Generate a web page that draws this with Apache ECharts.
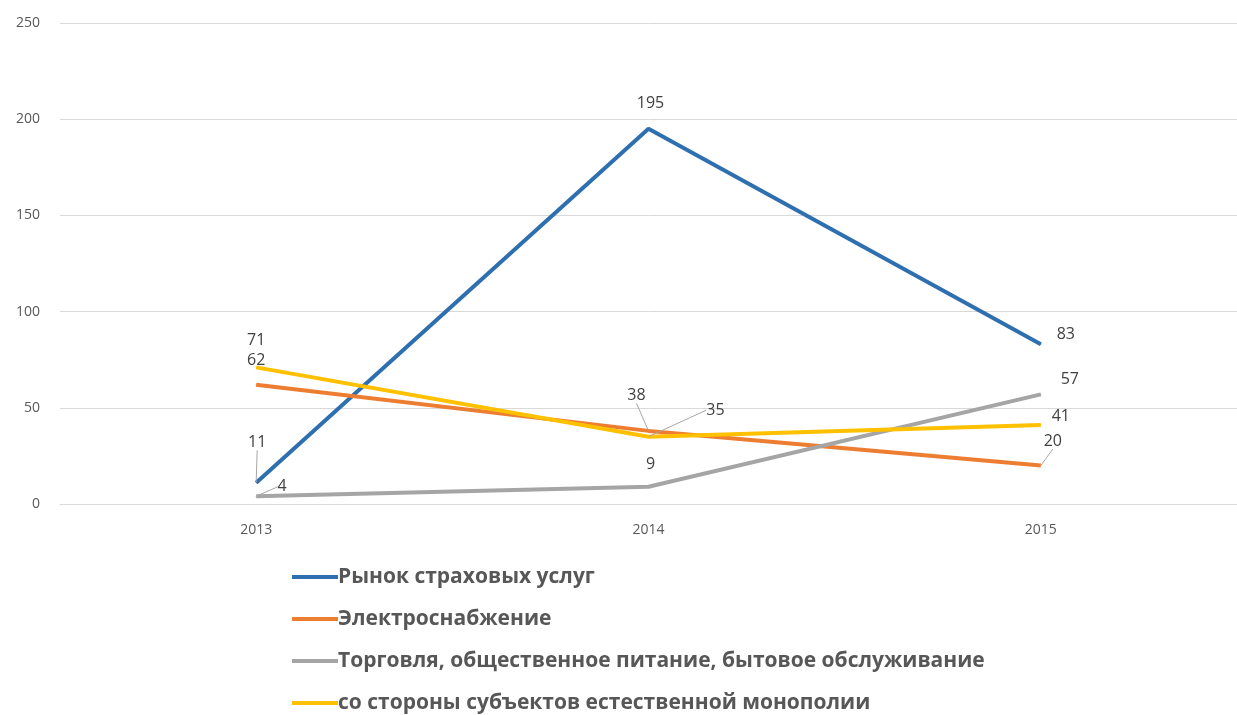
<!DOCTYPE html>
<html><head><meta charset="utf-8">
<script src="https://cdn.jsdelivr.net/npm/echarts@6/dist/echarts.min.js"></script>
<style>html,body{margin:0;padding:0;background:#fff}#c{width:1237px;height:715px}</style>
</head><body><div id="c"></div>
<script>
const categories = ['2013', '2014', '2015'];
const yTicks = [0, 50, 100, 150, 200, 250];
const seriesNames = ['Рынок страховых услуг', 'Электроснабжение', 'Торговля, общественное питание, бытовое обслуживание', 'со стороны субъектов естественной монополии'];
const insurance = [11, 195, 83];
const electricity = [62, 38, 20];
const trade = [4, 9, 57];
const monopoly = [71, 35, 41];

const colors = ['#2E6FB0', '#ED7D31', '#A5A5A5', '#FFC000'];
// label offsets [dx, dy] relative to default 'top' position, and whether leader line is drawn
const labelOffsets = [
  [[1, -26, true], [2, -11, false], [25, 5, false]],
  [[0, -10, false], [-12, -21, true], [12, -10, true]],
  [[26, 5, true], [2, -8, false], [29, 0, false]],
  [[0, -12, false], [67, -12, true], [20, 6, false]]
];
const seriesData = [insurance, electricity, trade, monopoly];

const chart = echarts.init(document.getElementById('c'));
chart.setOption({
  animation: false,
  color: colors,
  grid: { left: 60, width: 1182, top: 23, height: 481, containLabel: false },
  xAxis: {
    type: 'category', data: categories, boundaryGap: true,
    axisLine: { show: true, lineStyle: { color: '#D9D9D9', width: 1 } },
    axisTick: { show: false },
    axisLabel: { color: '#595959', fontSize: 14, fontFamily: 'Open Sans', margin: 19 }
  },
  yAxis: {
    type: 'value', min: 0, max: 250, interval: 50,
    axisLine: { show: false }, axisTick: { show: false },
    splitLine: { lineStyle: { color: '#D9D9D9', width: 1 } },
    axisLabel: { color: '#595959', fontSize: 14, fontFamily: 'Open Sans', margin: 20 }
  },
  legend: {
    orient: 'vertical', left: 292, top: 564, itemGap: 16, padding: 0,
    width: 800, height: 220,
    itemWidth: 46, itemHeight: 4, icon: 'rect',
    textStyle: { color: '#575757', fontSize: 21, fontWeight: 'bold', fontFamily: 'Open Sans', padding: [0, 0, 0, -5], lineHeight: 26 },
    data: seriesNames
  },
  series: seriesData.map((vals, si) => ({
    name: seriesNames[si], type: 'line', data: vals.map((v, i) => ({
      value: v,
      labelLine: { show: labelOffsets[si][i][2], lineStyle: { color: '#A6A6A6', width: 1 } }
    })),
    symbol: 'circle', symbolSize: 1, showSymbol: true,
    itemStyle: { color: colors[si] },
    lineStyle: { width: 4, color: colors[si] },
    label: { show: true, position: 'top', distance: 6, color: '#404040', fontSize: 16, fontFamily: 'Open Sans' },
    labelLine: { show: false, lineStyle: { color: '#A6A6A6', width: 1 } },
    labelLayout: function (p) {
      const o = labelOffsets[si][p.dataIndex];
      return { dx: o[0], dy: o[1] };
    },
    z: 2 + (si === 3 ? 1 : 0)
  }))
});
</script></body></html>
